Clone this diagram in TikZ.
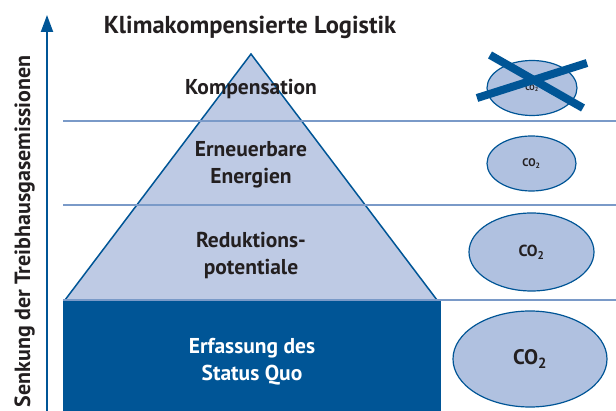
\documentclass[tikz,border=0pt]{standalone}
\usepackage{fontspec}
\setmainfont{PT Sans}
\usepackage{xcolor}
\usetikzlibrary{arrows.meta,shapes.geometric}

\definecolor{darkblue}{RGB}{0,85,150}
\definecolor{pyramidblue}{RGB}{190,202,228}
\definecolor{cloudblue}{RGB}{176,193,224}
\definecolor{levelblue}{RGB}{122,154,200}
\definecolor{textgray}{RGB}{35,31,32}

\begin{document}
\begin{tikzpicture}[x=1pt,y=-1pt]
\tikzset{level/.style={draw=levelblue,line width=2.5pt}}
\tikzset{stage/.style={font=\bfseries\fontsize{21.5}{27}\selectfont,align=center,text=textgray}}
\tikzset{cloud/.style={ellipse,draw=darkblue,fill=cloudblue,line width=1.2pt,inner sep=0pt,text=textgray,font=\bfseries}}

\useasboundingbox (0,0) rectangle (616,411);

% axis
\coordinate (axisfoot) at (47,420);
\coordinate (axistop) at (47,15);
\draw[darkblue,line width=2pt,-{Triangle[length=17pt,width=12pt]}] (axisfoot) -- (axistop);
\node[rotate=90,anchor=base east,inner sep=0pt,font=\bfseries\fontsize{22}{22}\selectfont,text=textgray] (axislabel) at (30,55) {Senkung der Treibhausgasemissionen};

\node[font=\bfseries\fontsize{24.5}{24.5}\selectfont,text=textgray] (title) at (250,27) {Klimakompensierte Logistik};

% pyramid
\coordinate (apex) at (251,54);
\coordinate (baseleft) at (65,300);
\coordinate (baseright) at (437,300);
\fill[pyramidblue] (baseleft) -- (apex) -- (baseright) -- cycle;
\draw[darkblue,line width=1.5pt] (baseleft) -- (apex) -- (baseright);
\fill[darkblue] (63,301) rectangle (441,420);

\foreach \y in {121,205,300}
  \draw[level] (63,\y) -- (616,\y);

\node[stage] (komp) at (251,89) {Kompensation};
\node[stage] (erneu) at (251,165) {Erneuerbare\\Energien};
\node[stage] (redu) at (251,256) {Reduktions-\\potentiale};
\node[stage,text=white] (status) at (252,362) {Erfassung des\\Status Quo};

% CO2 clouds
\node[cloud,minimum width=90pt,minimum height=55pt,font=\bfseries\fontsize{8}{8}\selectfont] (co2a) at (532,88) {CO\textsubscript{2}};
\node[cloud,minimum width=89pt,minimum height=55pt,font=\bfseries\fontsize{11}{11}\selectfont] (co2b) at (531.5,163.5) {CO\textsubscript{2}};
\node[cloud,minimum width=125pt,minimum height=78pt,font=\bfseries\fontsize{16}{16}\selectfont] (co2c) at (531.5,252) {CO\textsubscript{2}};
\node[cloud,minimum width=154pt,minimum height=96pt,font=\bfseries\fontsize{21}{21}\selectfont] (co2d) at (530,359) {CO\textsubscript{2}};

% cross over the first cloud
\coordinate (crossa1) at (490,55);
\coordinate (crossa2) at (583,108);
\coordinate (crossb1) at (477,98);
\coordinate (crossb2) at (587,63);
\draw[darkblue,line width=8pt] (crossa1) -- (crossa2);
\draw[darkblue,line width=8pt] (crossb1) -- (crossb2);
\end{tikzpicture}
\end{document}
